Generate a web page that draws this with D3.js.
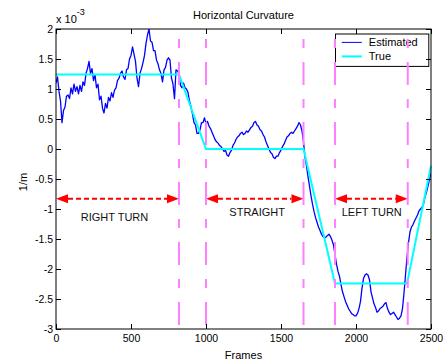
<!DOCTYPE html>
<html>
<head>
<meta charset="utf-8">
<script src="https://cdn.jsdelivr.net/npm/d3@7"></script>
<style>
    body { margin: 0; background: #fff; }
    svg { display: block; font-family: "Liberation Sans", Arial, sans-serif; }
</style>
</head>
<body>
<svg id="curvature_chart"></svg>
<script>
// estimated curvature (x 1e-3), one sample every 10 frames
var frame_step = 10;
var estimated_values = [
    1.10, 1.20, 0.96, 0.80, 0.44, 0.64, 0.70, 0.88, 0.90, 0.84,
    1.02, 0.92, 1.08, 0.96, 1.04, 0.92, 1.06, 0.96, 1.12, 1.06,
    1.26, 1.34, 1.46, 1.26, 1.34, 1.14, 1.24, 1.02, 1.08, 0.82,
    0.88, 0.68, 0.60, 0.76, 0.68, 0.86, 0.80, 0.94, 0.86, 0.98,
    1.02, 1.14, 1.18, 1.26, 1.30, 1.20, 1.16, 1.32, 1.34, 1.50,
    1.56, 1.70, 1.58, 1.46, 1.18, 1.04, 1.26, 1.34, 1.44, 1.56,
    1.76, 1.90, 2.00, 1.80, 1.78, 1.64, 1.64, 1.48, 1.42, 1.32,
    1.26, 1.12, 1.32, 1.36, 1.48, 1.52, 1.48, 1.18, 1.08, 0.84,
    1.32, 1.30, 1.26, 1.06, 1.02, 1.10, 1.02, 1.00, 0.94, 0.80,
    0.70, 0.58, 0.44, 0.40, 0.26, 0.26, 0.32, 0.44, 0.44, 0.52,
    0.42, 0.46, 0.38, 0.34, 0.28, 0.22, 0.16, 0.12, 0.10, 0.06,
    0.04, 0.00, -0.04, -0.02, -0.10, -0.12, -0.06, -0.02, 0.06, 0.10,
    0.16, 0.20, 0.22, 0.26, 0.28, 0.24, 0.26, 0.30, 0.28, 0.32,
    0.36, 0.38, 0.44, 0.46, 0.40, 0.38, 0.32, 0.30, 0.24, 0.20,
    0.12, 0.06, 0.00, -0.06, -0.08, -0.14, -0.16, -0.12, -0.12, -0.06,
    -0.02, 0.04, 0.08, 0.14, 0.20, 0.22, 0.26, 0.28, 0.26, 0.30,
    0.34, 0.38, 0.44, 0.40, 0.30, 0.12, -0.14, -0.28, -0.46, -0.62,
    -0.78, -0.92, -1.04, -1.14, -1.22, -1.30, -1.36, -1.42, -1.46, -1.48,
    -1.47, -1.44, -1.42, -1.46, -1.52, -1.60, -1.76, -1.92, -2.04, -2.12,
    -2.26, -2.38, -2.46, -2.54, -2.60, -2.66, -2.70, -2.74, -2.76, -2.78,
    -2.78, -2.74, -2.66, -2.54, -2.32, -2.16, -2.10, -2.08, -2.10, -2.18,
    -2.38, -2.48, -2.58, -2.64, -2.72, -2.70, -2.66, -2.64, -2.62, -2.58,
    -2.56, -2.66, -2.72, -2.76, -2.74, -2.72, -2.76, -2.80, -2.84, -2.82,
    -2.78, -2.66, -2.40, -2.10, -1.80, -1.56, -1.38, -1.30, -1.26, -1.20,
    -1.15, -1.10, -1.03, -1.00, -0.97, -0.92, -0.80, -0.72, -0.62, -0.50,
    -0.40
];

// true curvature, piecewise linear
var true_frames = [0, 820, 1000, 1650, 1860, 2340, 2500];
var true_values = [1.24, 1.24, 0, 0, -2.24, -2.24, -0.28];

// segment boundaries (dashed magenta lines)
var boundary_frames = [820, 1000, 1650, 1860, 2345];

// manoeuvre annotations
var segment_starts = [0, 1000, 1860];
var segment_ends = [820, 1650, 2345];
var segment_labels = ["RIGHT TURN", "STRAIGHT", "LEFT TURN"];
var label_frames = [390, 1341, 2105];
var label_levels = [-1.13, -1.06, -1.06];
var arrow_level = -0.83;

var x_ticks = [0, 500, 1000, 1500, 2000, 2500];
var y_ticks = [-3, -2.5, -2, -1.5, -1, -0.5, 0, 0.5, 1, 1.5, 2];
var legend_names = ["Estimated", "True"];

var margin = { top: 29, right: 14, bottom: 31, left: 56 };
var width = 445 - margin.left - margin.right;
var height = 360 - margin.top - margin.bottom;

var x = d3.scaleLinear().domain([0, 2500]).range([0, width]);
var y = d3.scaleLinear().domain([-3, 2]).range([height, 0]);

var root = d3.select("#curvature_chart")
    .attr("width", 445)
    .attr("height", 360);

var svg = root.append("g")
    .attr("transform", "translate(" + margin.left + "," + margin.top + ")");

svg.append("defs").append("clipPath")
    .attr("id", "plot_clip")
    .append("rect")
    .attr("width", width)
    .attr("height", height);

// estimated line
var estimated_line = d3.line()
    .x(function (d, i) { return x(i * frame_step); })
    .y(function (d) { return y(d); });

svg.append("path")
    .datum(estimated_values)
    .attr("clip-path", "url(#plot_clip)")
    .attr("d", estimated_line)
    .attr("fill", "none")
    .attr("stroke", "#0000ff")
    .attr("stroke-width", 1.3)
    .attr("stroke-linejoin", "round");

// true line
var true_line = d3.line()
    .x(function (d) { return x(d); })
    .y(function (d, i) { return y(true_values[i]); });

svg.append("path")
    .datum(true_frames)
    .attr("d", true_line)
    .attr("fill", "none")
    .attr("stroke", "#00ffff")
    .attr("stroke-width", 2);

// arrows
var arrow_len = 12, arrow_half = 4.5;
segment_starts.forEach(function (s, i) {
    var x0 = x(s), x1 = x(segment_ends[i]), ay = y(arrow_level);
    svg.append("line")
        .attr("x1", x0 + arrow_len)
        .attr("x2", x1 - arrow_len)
        .attr("y1", ay)
        .attr("y2", ay)
        .attr("stroke", "#ff0000")
        .attr("stroke-width", 2)
        .attr("stroke-dasharray", "5,3");
    svg.append("path")
        .attr("d", "M" + x0 + "," + ay + "L" + (x0 + arrow_len) + "," + (ay - arrow_half) + "L" + (x0 + arrow_len) + "," + (ay + arrow_half) + "Z")
        .attr("fill", "#ff0000");
    svg.append("path")
        .attr("d", "M" + x1 + "," + ay + "L" + (x1 - arrow_len) + "," + (ay - arrow_half) + "L" + (x1 - arrow_len) + "," + (ay + arrow_half) + "Z")
        .attr("fill", "#ff0000");
    svg.append("text")
        .attr("x", x(label_frames[i]))
        .attr("y", y(label_levels[i]))
        .attr("dy", "0.35em")
        .attr("text-anchor", "middle")
        .attr("font-size", 11)
        .attr("fill", "#111")
        .text(segment_labels[i]);
});

// legend
var legend = svg.append("g")
    .attr("transform", "translate(" + (x(2500) - 95.5) + ",5)");

legend.append("rect")
    .attr("width", 93.3)
    .attr("height", 32.4)
    .attr("fill", "#fff")
    .attr("stroke", "#000")
    .attr("stroke-width", 1);

legend_names.forEach(function (name, i) {
    var ly = 8.4 + i * 14;
    legend.append("line")
        .attr("x1", 6.3)
        .attr("x2", 26.3)
        .attr("y1", ly)
        .attr("y2", ly)
        .attr("stroke", i === 0 ? "#0000ff" : "#00ffff")
        .attr("stroke-width", i === 0 ? 1 : 2);
    legend.append("text")
        .attr("x", 33.3)
        .attr("y", ly)
        .attr("dy", "0.35em")
        .attr("font-size", 11)
        .attr("fill", "#000")
        .text(name);
});

// dashed boundaries
svg.selectAll(".boundary")
    .data(boundary_frames)
    .enter()
    .append("line")
    .attr("class", "boundary")
    .attr("x1", function (d) { return x(d); })
    .attr("x2", function (d) { return x(d); })
    .attr("y1", 0)
    .attr("y2", height)
    .attr("stroke", "#ff80ff")
    .attr("stroke-width", 2)
    .attr("stroke-dasharray", "9,14,23,14")
    .attr("stroke-dashoffset", 50);

// axes, MATLAB style: inward ticks on all four sides
var tick_len = 5;
var plain_format = function (d) { return String(d); };
svg.append("g")
    .attr("transform", "translate(0," + height + ")")
    .call(d3.axisBottom(x).tickValues(x_ticks).tickSizeInner(-tick_len).tickSizeOuter(0).tickPadding(6)
        .tickFormat(plain_format));
svg.append("g")
    .call(d3.axisTop(x).tickValues(x_ticks).tickSizeInner(-tick_len).tickSizeOuter(0).tickFormat(""));
svg.append("g")
    .call(d3.axisLeft(y).tickValues(y_ticks).tickSizeInner(-tick_len).tickSizeOuter(0).tickPadding(3)
        .tickFormat(plain_format));
svg.append("g")
    .attr("transform", "translate(" + width + ",0)")
    .call(d3.axisRight(y).tickValues(y_ticks).tickSizeInner(-tick_len).tickSizeOuter(0).tickFormat(""));

svg.selectAll(".domain").remove();
svg.selectAll(".tick line").attr("stroke", "#000");
svg.selectAll(".tick text")
    .attr("font-size", 10.5)
    .attr("font-family", "Liberation Sans, Arial, sans-serif")
    .attr("fill", "#000");

svg.append("rect")
    .attr("width", width)
    .attr("height", height)
    .attr("fill", "none")
    .attr("stroke", "#000")
    .attr("stroke-width", 1);

// titles and labels
root.append("text")
    .attr("x", margin.left + width / 2)
    .attr("y", 19)
    .attr("text-anchor", "middle")
    .attr("font-size", 11)
    .text("Horizontal Curvature");

var exp_label = root.append("text")
    .attr("x", 56)
    .attr("y", 23)
    .attr("font-size", 11);
exp_label.append("tspan").text("x 10");
exp_label.append("tspan").attr("dy", -8).attr("font-size", 9).text("-3");

root.append("text")
    .attr("x", margin.left + width / 2)
    .attr("y", 359)
    .attr("text-anchor", "middle")
    .attr("font-size", 11)
    .text("Frames");

root.append("text")
    .attr("transform", "translate(27,182) rotate(-90)")
    .attr("text-anchor", "middle")
    .attr("font-size", 11)
    .text("1/m");
</script>
</body>
</html>
